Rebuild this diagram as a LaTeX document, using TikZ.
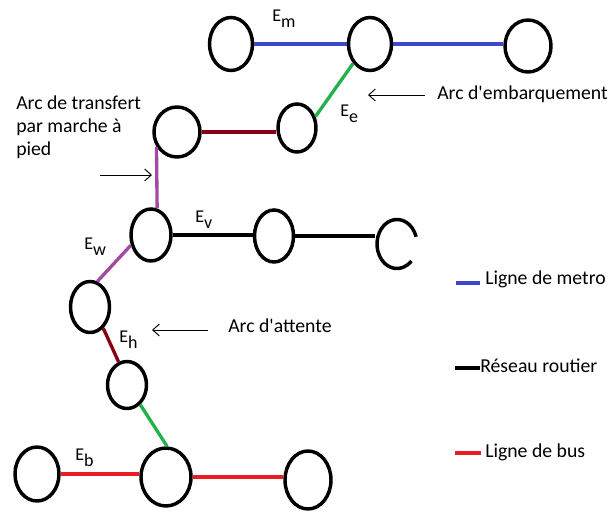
\documentclass[tikz,border=0pt]{standalone}
\usepackage{fontspec}
\setmainfont{Carlito}
\usetikzlibrary{shapes.geometric,arrows.meta,calc}

\definecolor{metroblue}{RGB}{63,72,204}
\definecolor{boardgreen}{RGB}{34,177,76}
\definecolor{waitred}{RGB}{136,0,21}
\definecolor{walkpurple}{RGB}{163,73,164}
\definecolor{busred}{RGB}{237,28,36}

\newcommand{\ename}[1]{E\raisebox{-4.5pt}{#1}}

\tikzset{
	station/.style={ellipse, draw, line width=2.6pt, inner sep=0pt, minimum width=31.5pt, minimum height=39pt},
	dims/.style 2 args={minimum width=#1*0.75pt, minimum height=#2*0.75pt},
	link/.style={line width=2.5pt},
	metroline/.style={link, color=metroblue},
	roadline/.style={link, color=black},
	busline/.style={link, color=busred},
	walkline/.style={link, color=walkpurple},
	boardline/.style={link, color=boardgreen},
	waitline/.style={link, color=waitred},
	pointer/.style={line width=0.7pt, -{Straight Barb[length=5pt,width=9pt]}},
	lbl/.style={inner sep=0pt, anchor=base west, font=\fontsize{14.8}{16.9}\selectfont},
	elabel/.style={inner sep=0pt, anchor=base west, font=\fontsize{13.5}{16}\selectfont},
}

\begin{document}
\begin{tikzpicture}[x=0.75pt, y=-0.75pt]
	%%%%% START %%%%%
	\useasboundingbox (0,0) rectangle (610,516);
	
	% metro
	\node[station, dims={43}{53}] (m1) at (231,44) {};
	\node[station, dims={43}{53}] (m2) at (370,44) {};
	\node[station, dims={46}{52}] (m3) at (528,46) {};
	
	% transfer / boarding
	\node[station, dims={46}{50}] (t1) at (177,132) {};
	\node[station, dims={38}{48}] (e1) at (297,128) {};
	
	% road
	\node[station, dims={40}{52}] (v1) at (151,235) {};
	\node[station, dims={39}{52}] (v2) at (274,236) {};
	\node[station, dims={40}{49}, draw=none] (v3) at (397,244) {};
	\draw[line width=2.6pt] ($(v3.center)+(17:15pt and 18.4pt)$) arc[start angle=17, end angle=316, x radius=15pt, y radius=18.4pt];
	
	\node[station, dims={39}{51}] (w1) at (90,307) {};
	\node[station, dims={39}{47}] (h1) at (127,385) {};
	
	% bus
	\node[station, dims={44}{54}] (b1) at (37,474) {};
	\node[station, dims={50}{58}] (b2) at (166,477) {};
	\node[station, dims={46}{58}] (b3) at (308,480) {};
	
	\draw[metroline] (m1) -- (m1 -| m2.west);
	\draw[metroline] (m2) -- (m2 -| m3.west);
	\draw[boardline] (m2.229) -- (e1.32);
	\draw[waitline] (t1) -- (t1 -| e1.west);
	\draw[walkline] (t1.216) -- (v1.77);
	\draw[roadline] (v1) -- (v1 -| v2.west);
	\draw[roadline] (v2) -- (v2 -| v3.west);
	\draw[walkline] (v1.207) -- (w1.74);
	\draw[waitline] (w1.302) -- (h1.110);
	\draw[boardline] (h1.304) -- (b2.88);
	\draw[busline] (b1) -- (b1 -| b2.west);
	\draw[busline] (b2) -- (b2 -| b3.west);
	
	% labels
	\node[elabel] (lm) at (272,22) {\ename{m}};
	\node[elabel] (le) at (340,117) {\ename{e}};
	\node[elabel] (lv) at (195,223) {\ename{v}};
	\node[elabel] (lw) at (84,250) {\ename{w}};
	\node[elabel] (lh) at (119,343) {\ename{h}};
	\node[elabel] (lb) at (75,460) {\ename{b}};
	
	\node[lbl] (emb) at (437,100) {Arc d\textquotesingle embarquement};
	\draw[pointer] ($(emb.base west)+(-12,-5)$) -- ++(-57,0);
	
	\node[lbl] (att) at (228,333) {Arc d\textquotesingle attente};
	\draw[pointer] ($(att.base west)+(-20,-3)$) -- ++(-56,0);
	
	\node[lbl, anchor=north west, align=left] (trf) at (16,96) {Arc de transfert\\par marche à\\pied};
	\coordinate (trftail) at (100,175);
	\draw[pointer] (trftail) -- ++(52,0);
	
	% legend
	\node[lbl] (lmetro) at (485,285) {Ligne de metro};
	\node[lbl] (lroad) at (480,373) {Réseau routier};
	\node[lbl] (lbus) at (485,457) {Ligne de bus};
	\draw[metroline] ($(lmetro.base west)+(-29,-2)$) -- ++(24,0);
	\draw[roadline] ($(lroad.base west)+(-25,-5)$) -- ++(25,0);
	\draw[busline] ($(lbus.base west)+(-30,-4)$) -- ++(26,0);
	%%%%% END %%%%%
\end{tikzpicture}
\end{document}
